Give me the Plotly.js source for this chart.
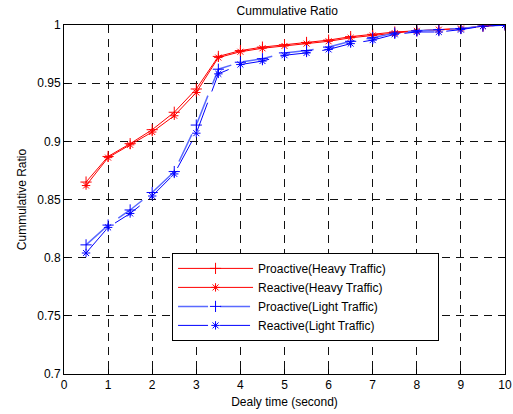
<!DOCTYPE html>
<html>
<head>
<meta charset="utf-8">
<script src="https://cdn.plot.ly/plotly-3.0.1.min.js"></script>
<style>html,body{margin:0;padding:0;background:#fff;}#chart{width:513px;height:414px;}</style>
</head>
<body>
<div id="chart"></div>
<script>
var delay = [0.5,1,1.5,2,2.5,3,3.5,4,4.5,5,5.5,6,6.5,7,7.5,8,8.5,9,9.5,10];
var proactiveHeavy = [0.865,0.887,0.898,0.910,0.925,0.945,0.973,0.978,0.981,0.983,0.985,0.987,0.990,0.992,0.994,0.995,0.996,0.997,0.999,1.0];
var reactiveHeavy  = [0.862,0.886,0.897,0.908,0.922,0.942,0.972,0.977,0.980,0.982,0.984,0.986,0.989,0.991,0.993,0.995,0.996,0.997,0.999,1.0];
var proactiveLight = [0.811,0.828,0.841,0.856,0.874,0.914,0.962,0.968,0.971,0.976,0.978,0.981,0.986,0.989,0.993,0.995,0.996,0.997,0.999,1.0];
var reactiveLight  = [0.804,0.826,0.838,0.853,0.872,0.907,0.958,0.966,0.969,0.974,0.976,0.979,0.984,0.987,0.992,0.994,0.994,0.996,0.999,1.0];
var seriesNames = ['Proactive(Heavy Traffic)','Reactive(Heavy Traffic)','Proactive(Light Traffic)','Reactive(Light Traffic)'];
var xTicks = [0,1,2,3,4,5,6,7,8,9,10];
var yTicks = [0.7,0.75,0.8,0.85,0.9,0.95,1];
var yTickText = ['0.7','0.75','0.8','0.85','0.9','0.95','1'];

var traces = [
  {x: delay, y: proactiveHeavy, name: seriesNames[0], mode: 'lines+markers',
   line: {color: '#ff0000', width: 1},
   marker: {symbol: 'cross-thin-open', size: 8, color: '#ff0000', line: {color: '#ff0000', width: 1}}},
  {x: delay, y: reactiveHeavy, name: seriesNames[1], mode: 'lines+markers',
   line: {color: '#ff0000', width: 1},
   marker: {symbol: 'asterisk-open', size: 7, color: '#ff0000', line: {color: '#ff0000', width: 1}}},
  {x: delay, y: proactiveLight, name: seriesNames[2], mode: 'lines+markers',
   line: {color: '#5a6aff', width: 1.5, dash: '30px,12px'},
   marker: {symbol: 'cross-thin-open', size: 8, color: '#0000ff', line: {color: '#0000ff', width: 1}}},
  {x: delay, y: reactiveLight, name: seriesNames[3], mode: 'lines+markers',
   line: {color: '#0000ff', width: 1, dash: '30px,12px'},
   marker: {symbol: 'asterisk-open', size: 7, color: '#0000ff', line: {color: '#0000ff', width: 1}}}
];

var layout = {
  width: 513, height: 414,
  margin: {l: 64, r: 8, t: 25, b: 40},
  paper_bgcolor: '#ffffff', plot_bgcolor: '#ffffff',
  font: {family: 'Liberation Sans, Arial, sans-serif', size: 12, color: '#000'},
  title: {text: 'Cummulative Ratio', font: {size: 12, color: '#000'}, x: 0.56, xanchor: 'center', y: 0.975, yanchor: 'middle'},
  showlegend: true,
  legend: {x: 0.245, y: 0.347, xanchor: 'left', yanchor: 'top', bgcolor: '#ffffff',
    orientation: 'h', entrywidth: 175, entrywidthmode: 'pixels',
    bordercolor: '#000', borderwidth: 1, itemwidth: 75, tracegroupgap: 0,
    font: {size: 12, color: '#000'}},
  xaxis: {range: [0, 10], tickvals: xTicks, ticks: 'inside', ticklen: 5, tickcolor: '#000',
    showline: true, linecolor: '#000', linewidth: 1, mirror: 'ticks',
    showgrid: true, gridcolor: '#111', griddash: '8px,6px', gridwidth: 1, zeroline: false,
    title: {text: 'Dealy time (second)', font: {size: 12}, standoff: 6}},
  yaxis: {range: [0.7, 1], tickvals: yTicks, ticktext: yTickText, ticks: 'inside', ticklen: 5, tickcolor: '#000',
    showline: true, linecolor: '#000', linewidth: 1, mirror: 'ticks',
    showgrid: true, gridcolor: '#111', griddash: '8px,6px', gridwidth: 1, zeroline: false,
    title: {text: 'Cummulative Ratio', font: {size: 12}, standoff: 8}}
};

Plotly.newPlot('chart', traces, layout, {displayModeBar: false, staticPlot: true});
</script>
</body>
</html>
